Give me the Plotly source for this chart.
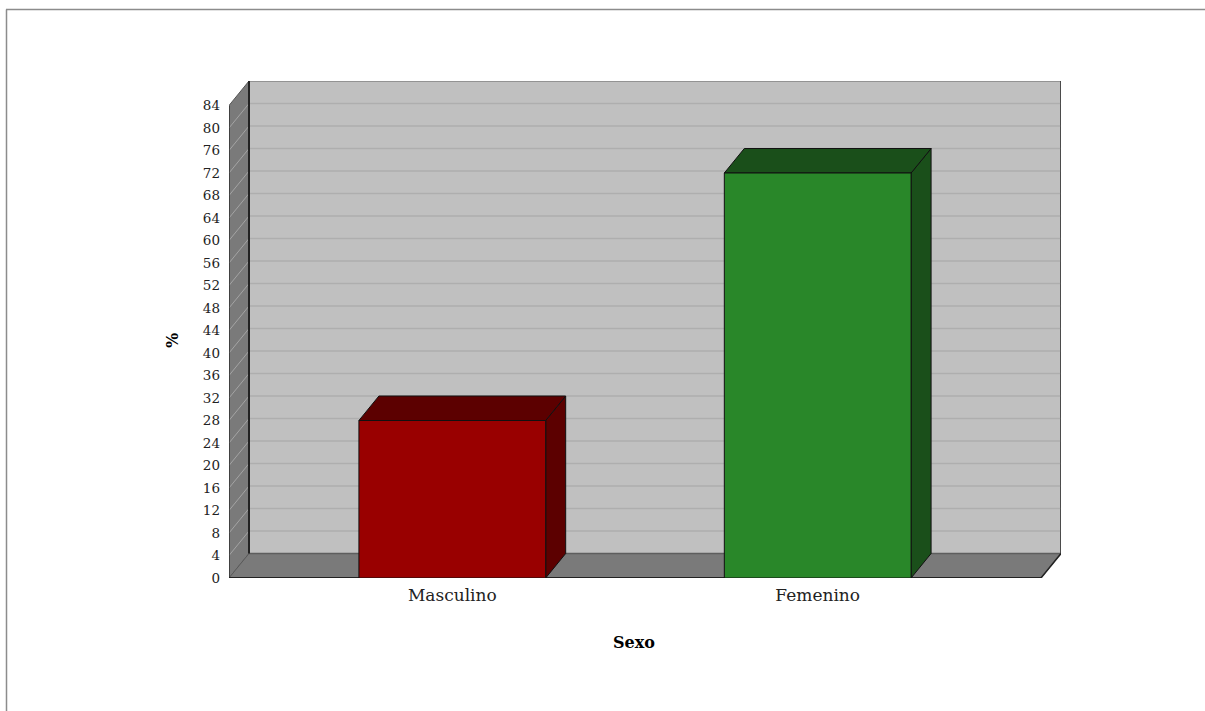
import plotly.graph_objects as go

# ---- data ----
categories = ["Masculino", "Femenino"]
values = [28, 72]
y_ticks = list(range(0, 85, 4))
x_title = "Sexo"
y_title = "%"

# ---- style / layout constants ----
front_colors = ["#990000", "#298729"]
side_colors = ["#5c0000", "#1a4f1a"]
W, H = 1205, 711
ML, MT = 229, 81
FRONT_W_PX = 812          # width of the front plane in px
DX_PX, DY_PX = 20, 24.5   # 3D depth offset in px
PLOT_H_PX = 497
YMAX = 84
cat_margin = 0.05
bar_w = 0.23

dxu = DX_PX / FRONT_W_PX
plot_w_px = FRONT_W_PX + DX_PX
px_per_unit = (PLOT_H_PX - DY_PX) / YMAX
dyu = DY_PX / px_per_unit
MR = W - ML - plot_w_px
MB = H - MT - PLOT_H_PX

fig = go.Figure()


def poly(xs, ys, fill, line_color=None, width=1):
    fig.add_trace(go.Scatter(
        x=list(xs) + [xs[0]], y=list(ys) + [ys[0]], mode="lines",
        fill="toself", fillcolor=fill,
        line=dict(color=line_color or fill, width=width),
        hoverinfo="skip", showlegend=False))


def seg(x0, y0, x1, y1, color, width=1):
    fig.add_trace(go.Scatter(
        x=[x0, x1], y=[y0, y1], mode="lines",
        line=dict(color=color, width=width),
        hoverinfo="skip", showlegend=False))


# back wall
poly([dxu, 1 + dxu, 1 + dxu, dxu], [dyu, dyu, YMAX + dyu, YMAX + dyu], "#c0c0c0", "#666666")
for v in y_ticks[1:-1]:
    seg(dxu, v + dyu, 1 + dxu, v + dyu, "#aeaeae", 1.3)
# left wall
poly([0, dxu, dxu, 0], [0, dyu, YMAX + dyu, YMAX], "#7a7a7a", "#555555")
for v in y_ticks[1:-1]:
    seg(0, v, dxu, v + dyu, "#a4a4a4", 1)
# floor
poly([0, 1, 1 + dxu, dxu], [0, 0, dyu, dyu], "#7a7a7a", "#5a5a5a")
# edges
seg(dxu, dyu, 1 + dxu, dyu, "#5e5e5e", 1.5)
seg(dxu, dyu, dxu, YMAX + dyu, "#222222", 2)
seg(1 + dxu, dyu, 1 + dxu, YMAX + dyu, "#333333", 1.5)
seg(0, 0, 0, YMAX, "#333333", 1.5)
seg(0, 0, 1, 0, "#222222", 2)
seg(1, 0, 1 + dxu, dyu, "#222222", 1.5)

# bars
n = len(categories)
centers = [cat_margin + (1 - 2 * cat_margin) * (i + 0.5) / n for i in range(n)]
for c, v, fc, sc in zip(centers, values, front_colors, side_colors):
    x0, x1 = c - bar_w / 2, c + bar_w / 2
    poly([x1, x1 + dxu, x1 + dxu, x1], [0, dyu, v + dyu, v], sc, "#111111")
    poly([x0, x0 + dxu, x1 + dxu, x1], [v, v + dyu, v + dyu, v], sc, "#111111")
    poly([x0, x1, x1, x0], [0, 0, v, v], fc, "#111111")

fig.update_layout(
    width=W, height=H,
    margin=dict(l=ML, r=MR, t=MT, b=MB, pad=0),
    paper_bgcolor="white", plot_bgcolor="white",
    showlegend=False,
    xaxis=dict(range=[0, 1 + dxu], showgrid=False, zeroline=False, showline=False,
               tickvals=centers, ticktext=categories, ticks="",
               tickfont=dict(family="DejaVu Serif", size=17, color="#222222"),
               ticklabelstandoff=5, automargin=False, fixedrange=True),
    yaxis=dict(range=[0, YMAX + dyu], showgrid=False, zeroline=False, showline=False,
               tickvals=y_ticks, ticktext=[str(t) for t in y_ticks], ticks="",
               tickfont=dict(family="DejaVu Serif", size=13.5, color="#222222"),
               ticklabelstandoff=8, automargin=False, fixedrange=True),
    annotations=[
        dict(text="<b>%s</b>" % x_title, xref="paper", yref="paper",
             xanchor="center", yanchor="middle",
             x=(634 - ML) / plot_w_px, y=-(642 - (MT + PLOT_H_PX)) / PLOT_H_PX,
             showarrow=False, font=dict(family="DejaVu Serif", size=16, color="black")),
        dict(text="<b>%s</b>" % y_title, xref="paper", yref="paper", textangle=-90,
             xanchor="center", yanchor="middle",
             x=(172 - ML) / plot_w_px, y=((MT + PLOT_H_PX) - 341) / PLOT_H_PX,
             showarrow=False, font=dict(family="DejaVu Serif", size=16, color="black")),
    ],
    shapes=[
        dict(type="line", xref="paper", yref="paper",
             x0=(6 - ML) / plot_w_px, x1=(W - ML) / plot_w_px,
             y0=(MT + PLOT_H_PX - 9.5) / PLOT_H_PX, y1=(MT + PLOT_H_PX - 9.5) / PLOT_H_PX,
             line=dict(color="#8c8c8c", width=1.5)),
        dict(type="line", xref="paper", yref="paper",
             x0=(6.5 - ML) / plot_w_px, x1=(6.5 - ML) / plot_w_px,
             y0=(MT + PLOT_H_PX - 9.5) / PLOT_H_PX, y1=-(H - MT - PLOT_H_PX) / PLOT_H_PX,
             line=dict(color="#8c8c8c", width=1.5)),
    ],
)

fig.write_html("out.html", config={"displayModeBar": False},
               post_script="document.body.style.margin='0px';")
